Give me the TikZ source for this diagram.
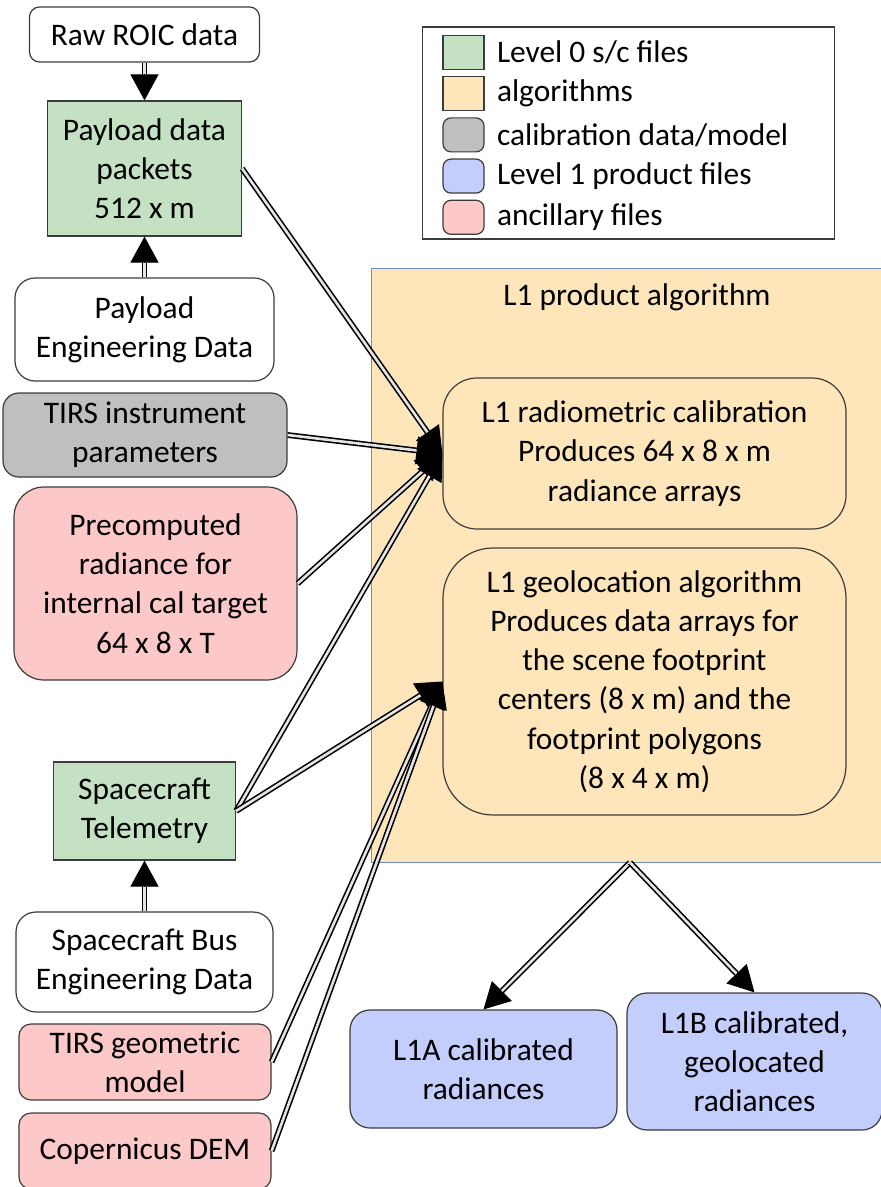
\documentclass[tikz,border=0pt]{standalone}
\usepackage{fontspec}
\setmainfont{Carlito}
\usetikzlibrary{arrows.meta}
\usetikzlibrary{positioning}

\definecolor{lvlzero}{RGB}{197,225,195}
\definecolor{algo}{RGB}{255,230,186}
\definecolor{calib}{RGB}{191,191,191}
\definecolor{lvlone}{RGB}{196,206,253}
\definecolor{ancil}{RGB}{253,200,200}
\definecolor{edge}{RGB}{60,60,60}
\definecolor{algedge}{RGB}{110,140,200}

\begin{document}
\begin{tikzpicture}[x=0.5pt,y=-0.5pt,>={Triangle[length=13pt,width=14pt]},
	every node/.style={font=\fontsize{15.7pt}{19.6pt}\selectfont},
	box/.style={draw=edge,line width=0.6pt,align=center,inner sep=0pt},
	swatch/.style={draw=edge,line width=0.6pt,minimum width=20.5pt,minimum height=17pt,inner sep=0pt},
	legtext/.style={anchor=west,inner sep=0pt},
	tip/.style={->,line width=0.5pt},
	pipe/.style={double=white!80!gray,double distance=1.3pt,line width=0.8pt,shorten >=13pt}]

		\useasboundingbox (0,0) rectangle (881,1187);
		\clip (0,0) rectangle (881,1187);

		\node[box,rounded corners=5pt,minimum width=115pt,minimum height=27.5pt] (raw) at (144.5,34.5) {Raw ROIC data};
		\node[box,fill=lvlzero,minimum width=97pt,minimum height=67.5pt] (payload) at (144.5,168.5) {Payload data\\packets\\512 x m};
		\node[box,rounded corners=10pt,minimum width=129.5pt,minimum height=51.5pt] (peng) at (144.5,329.5) {Payload\\Engineering Data};
		\node[box,fill=calib,rounded corners=8pt,minimum width=142pt,minimum height=42pt] (tirsp) at (145,435) {TIRS instrument\\parameters};
		\node[box,fill=ancil,rounded corners=15pt,minimum width=141.5pt,minimum height=96.5pt] (precomp) at (155.5,583.5) {Precomputed\\radiance for\\internal cal target\\64 x 8 x T};
		\node[box,fill=lvlzero,minimum width=91pt,minimum height=49pt] (telem) at (144.5,811) {Spacecraft\\Telemetry};
		\node[box,rounded corners=10pt,minimum width=128.5pt,minimum height=50pt] (bus) at (144.5,962) {Spacecraft Bus\\Engineering Data};
		\node[box,fill=ancil,rounded corners=6pt,minimum width=126pt,minimum height=38pt] (tgeo) at (145,1062) {TIRS geometric\\model};
		\node[box,fill=ancil,rounded corners=6pt,minimum width=126pt,minimum height=38pt] (dem) at (145,1151) {Copernicus DEM};

		% legend
		\node[box,minimum width=206pt,minimum height=106pt] (legend) at (628.5,133) {};
		\node[swatch,fill=lvlzero] (swA) at (463.5,52.5) {};
		\node[swatch,fill=algo,below=3pt of swA] (swB) {};
		\node[swatch,fill=calib,rounded corners=4pt,below=3pt of swB] (swC) {};
		\node[swatch,fill=lvlone,rounded corners=4pt,below=3pt of swC] (swD) {};
		\node[swatch,fill=ancil,rounded corners=4pt,below=3pt of swD] (swE) {};
		\node[legtext,right=6pt of swA] {Level 0 s/c files};
		\node[legtext,right=6pt of swB] {algorithms};
		\node[legtext,right=6pt of swC] {calibration data/model};
		\node[legtext,right=6pt of swD] {Level 1 product files};
		\node[legtext,right=6pt of swE] {ancillary files};

		% algorithm block
		\node[draw=algedge,line width=0.5pt,fill=algo,minimum width=259pt,minimum height=296.5pt] (alg) at (630,565.5) {};
		\node (algtitle) at (637,297) {L1 product algorithm};
		\node[box,fill=algo,rounded corners=17pt,minimum width=201.5pt,minimum height=75.5pt] (radcal) at (644.5,453.5) {L1 radiometric calibration\\Produces 64 x 8 x m\\radiance arrays};
		\node[box,fill=algo,rounded corners=25pt,minimum width=201.5pt,minimum height=133.5pt] (geoloc) at (644.5,681.5) {L1 geolocation algorithm\\Produces data arrays for\\the scene footprint\\centers (8 x m) and the\\footprint polygons\\(8 x 4 x m)};

		\node[box,fill=lvlone,rounded corners=10pt,minimum width=133.5pt,minimum height=59pt] (lia) at (483.5,1069) {L1A calibrated\\radiances};
		\node[box,fill=lvlone,rounded corners=10pt,minimum width=127.5pt,minimum height=68.5pt] (lib) at (754.5,1061.5) {L1B calibrated,\\geolocated\\radiances};

		\path
		(raw) edge[tip] (payload) edge[pipe] (payload)
		(peng) edge[tip] (payload) edge[pipe] (payload)
		(bus) edge[tip] (telem) edge[pipe] (telem)
		(payload.east) edge[tip] (radcal.west) edge[pipe] (radcal.west)
		(tirsp.east) edge[tip] (radcal.west) edge[pipe] (radcal.west)
		(precomp.east) edge[tip] (radcal.west) edge[pipe] (radcal.west)
		(telem.east) edge[tip] (radcal.west) edge[pipe] (radcal.west)
		(telem.east) edge[tip] (geoloc.west) edge[pipe] (geoloc.west)
		(tgeo.east) edge[tip] (geoloc.west) edge[pipe] (geoloc.west)
		(dem.east) edge[tip] (geoloc.west) edge[pipe] (geoloc.west)
		(alg.south) edge[tip] (lia.north) edge[pipe] (lia.north)
		(alg.south) edge[tip] (lib.north) edge[pipe] (lib.north);

\end{tikzpicture}
\end{document}
